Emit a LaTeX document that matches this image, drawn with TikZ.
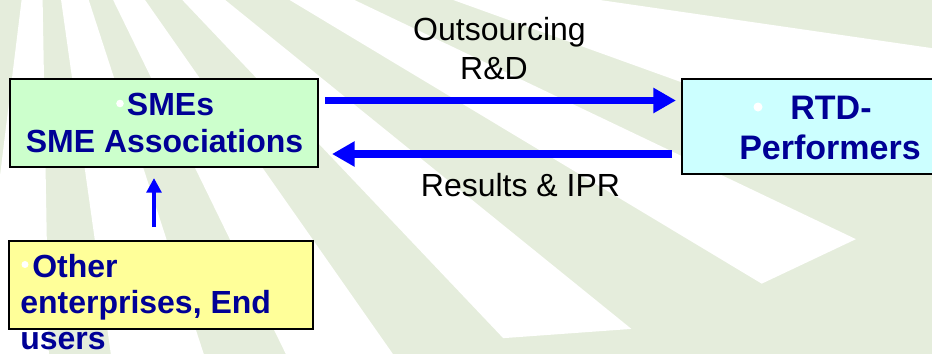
\documentclass[tikz,border=0pt]{standalone}
\usepackage{fontspec}
\setmainfont{Liberation Sans}
\usetikzlibrary{arrows.meta}
\definecolor{bggreen}{RGB}{229,237,220}
\definecolor{navy}{RGB}{0,0,150}
\definecolor{boxgreen}{RGB}{204,255,204}
\definecolor{boxcyan}{RGB}{204,255,255}
\definecolor{boxyellow}{RGB}{255,255,153}
\definecolor{arrowblue}{RGB}{0,0,255}
\tikzset{
  ray/.style={fill=white},
  box/.style={draw=black, line width=1.5pt, inner sep=0pt},
  boxtext/.style={text=navy, font=\fontsize{24}{28}\selectfont\bfseries, inner sep=0pt},
  rtdtext/.style={text=navy, font=\fontsize{25.5}{30}\selectfont\bfseries, inner sep=0pt},
  lbl/.style={text=black, font=\fontsize{24}{28}\selectfont, inner sep=0pt},
  bulletdot/.style={fill=white},
  fatarrow/.style={draw=arrowblue, line width=5.6pt, -{Triangle[length=17pt,width=18pt]}},
  thinarrow/.style={draw=arrowblue, line width=3pt, -{Triangle[length=11pt,width=11pt]}}
}
\begin{document}
\begin{tikzpicture}[x=0.75pt,y=-0.75pt]
\useasboundingbox (0,0) rectangle (932,354);
\begin{scope}
\clip (0,0) rectangle (932,354);
\fill[bggreen] (0,0) rectangle (932,354);
% sunburst rays
\begin{scope}[shift={(40,-150)}]
  \fill[ray] (0,0) -- (89:720) -- (97:720) -- cycle;
  \fill[ray] (0,0) -- (72:720) -- (82:720) -- cycle;
  \fill[ray] (0,0) -- (55:625) -- (64:575) -- cycle;
  \fill[ray] (0,0) -- (39:761) -- (46.5:673) -- cycle;
  \fill[ray] (0,0) -- (25.5:904) -- (31:842) -- cycle;
\end{scope}
\fill[ray] (370,-30) -- (393,-30) -- (1000,58) -- (1000,197) -- cycle;
% boxes
\node[box, fill=boxgreen, minimum width=231pt, minimum height=66pt] (sme) at (164,123) {};
\node[box, fill=boxcyan, minimum width=223.5pt, minimum height=71.25pt] (rtd) at (831,126.5) {};
\node[box, fill=boxyellow, minimum width=228pt, minimum height=66pt] (other) at (160.5,285) {};
% box texts
\node[boxtext, anchor=base] (smes) at (170.5,115) {SMEs};
\node[boxtext, anchor=base] (smeassoc) at (164.5,152) {SME Associations};
\node[rtdtext, anchor=base] (rtd1) at (831,119) {RTD-};
\node[rtdtext, anchor=base] (rtd2) at (830,159) {Performers};
\node[boxtext, anchor=base west] (oth1) at (32,277) {Other};
\node[boxtext, anchor=base west] (oth2) at (20,313.5) {enterprises, End};
\node[boxtext, anchor=base west] (oth3) at (20,349) {users};
% bullets
\fill[bulletdot] (120,103.5) circle (3.8);
\fill[bulletdot] (758,107) circle (4.5);
\fill[bulletdot] (25,264.5) circle (3.5);
\fill[bulletdot] (405,28) circle (3);
% labels
\node[lbl, anchor=base] (out1) at (499.5,40) {Outsourcing};
\node[lbl, anchor=base] (out2) at (494,79) {R\&D};
\node[lbl, anchor=base] (res) at (520.5,196) {Results \& IPR};
% connectors
\draw[fatarrow, shorten <=4.5pt, shorten >=3.75pt] (sme.east |- 0,100.5) -- (rtd.west |- 0,100.5);
\draw[fatarrow, shorten <=7pt, shorten >=9.75pt] (rtd.west |- 0,154) -- (sme.east |- 0,154);
\draw[thinarrow, shorten <=9.75pt, shorten >=7.5pt] (other.north -| 154,0) -- (sme.south -| 154,0);
\end{scope}
\end{tikzpicture}
\end{document}
